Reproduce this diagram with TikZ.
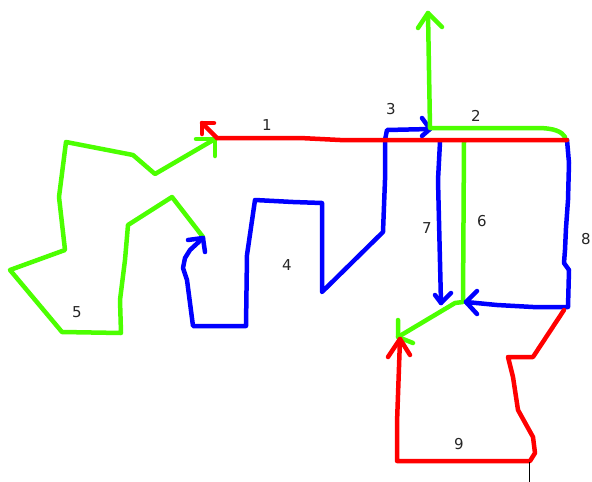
\documentclass[tikz,border=0pt]{standalone}
\usepackage{fontspec}
\setmainfont{DejaVu Sans}
\definecolor{pred}{RGB}{255,0,0}
\definecolor{pgreen}{RGB}{76,255,0}
\definecolor{pblue}{RGB}{0,0,255}
\begin{document}
\begin{tikzpicture}[x=1pt,y=-1pt,
  stroke/.style={line width=4.5pt,line join=round,line cap=round},
  rstroke/.style={stroke,draw=pred},
  gstroke/.style={stroke,draw=pgreen},
  bstroke/.style={stroke,draw=pblue},
  lbl/.style={font=\fontsize{15}{15}\selectfont,text=black!85,inner sep=0pt}]
\fill[white] (0,0) rectangle (592,482);
\useasboundingbox (0,0) rectangle (592,482);
% green 5
\draw[gstroke] (215,139) -- (155,174) -- (133,155) -- (66,142) -- (59,197) -- (65,250) -- (10,270) -- (62,332) -- (121,333) -- (120,300) -- (125,260) -- (128,225) -- (172,197) -- (203,237);
\draw[gstroke] (196,139) -- (215,139) -- (215,156);
% blue 4 and 3
\draw[bstroke] (203,238) -- (190,250) -- (185,258) -- (183,268) -- (187,280) -- (193,326) -- (246,326) -- (247,255) -- (255,200) -- (293,202) -- (322,203) -- (322,292) -- (383,232) -- (385,180) -- (385,140) -- (387,130) -- (430,129);
\draw[bstroke] (188,240) -- (203,238) -- (205,252);
\draw[bstroke] (422,118) -- (430,129) -- (422,136);
% green 2
\draw[gstroke] (428,13) -- (430,128) -- (537,128) .. controls (555,128) and (562,132) .. (565,137);
\draw[gstroke] (418,28) -- (428,13) -- (442,27);
% green 6
\draw[gstroke] (464,142) -- (463,302) -- (455,303) -- (398,337);
\draw[gstroke] (398,320) -- (398,337) -- (413,343);
% blue 7
\draw[bstroke] (440,142) -- (438,180) -- (441,303);
\draw[bstroke] (435,295) -- (441,303) -- (451,293);
% blue 8
\draw[bstroke] (567,140) -- (569,163) -- (568,200) -- (566,228) -- (565,250) -- (564,263) -- (569,270) -- (568,307) -- (533,307) -- (497,305) -- (466,302);
\draw[bstroke] (477,291) -- (466,302) -- (477,314);
% red 1
\draw[rstroke] (217,138) -- (300,138) -- (340,140) -- (567,140);
\draw[rstroke] (217,138) -- (202,123);
\draw[rstroke] (202,134) -- (202,123) -- (214,123);
% red 9
\draw[rstroke] (564,310) -- (533,357) -- (508,357) -- (513,377) -- (518,410) -- (533,437) -- (535,453) -- (530,461) -- (397,461) -- (397,423) -- (400,339);
\draw[rstroke] (388,357) -- (400,339) -- (410,355);
% black tick
\draw[black,line width=1pt] (529,462) -- (529,482);
% labels
\node[lbl] (l1) at (267,125) {1};
\node[lbl] (l2) at (476,116) {2};
\node[lbl] (l3) at (391,109) {3};
\node[lbl] (l4) at (287,265) {4};
\node[lbl] (l5) at (77,312) {5};
\node[lbl] (l6) at (482,221) {6};
\node[lbl] (l7) at (427,228) {7};
\node[lbl] (l8) at (586,239) {8};
\node[lbl] (l9) at (459,444) {9};
\end{tikzpicture}
\end{document}
